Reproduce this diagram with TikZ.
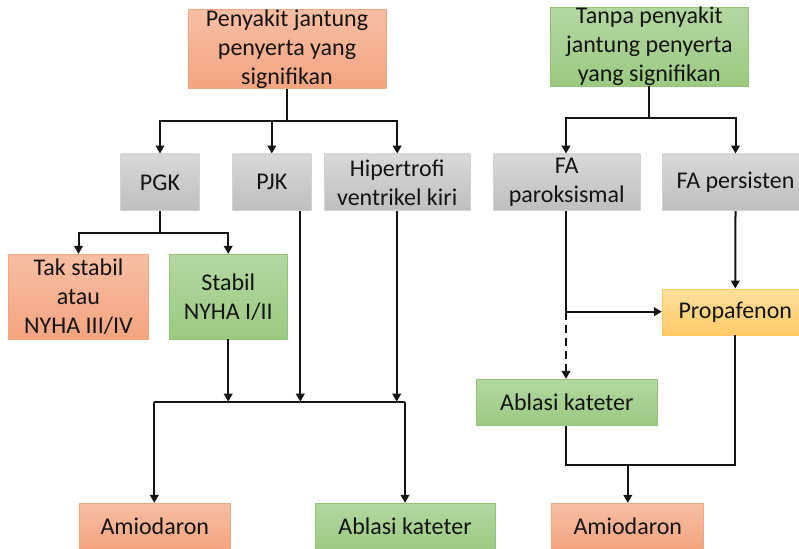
\documentclass[tikz,border=0pt]{standalone}
\usepackage{fontspec}
\setmainfont{Carlito}
\usetikzlibrary{arrows.meta}

\definecolor{orTop}{HTML}{F7BEA3}
\definecolor{orBot}{HTML}{F4A47F}
\definecolor{orLine}{HTML}{F4A57F}
\definecolor{grTop}{HTML}{B3D7A1}
\definecolor{grBot}{HTML}{9CCA81}
\definecolor{grLine}{HTML}{92C476}
\definecolor{gyTop}{HTML}{D9D9D9}
\definecolor{gyBot}{HTML}{BEBEBE}
\definecolor{gyLine}{HTML}{D2D2D2}
\definecolor{yeTop}{HTML}{FFDF9E}
\definecolor{yeBot}{HTML}{FFCB66}
\definecolor{yeLine}{HTML}{FFCA62}
\definecolor{ink}{HTML}{141414}

\tikzset{
  box/.style={draw, line width=0.8pt, inner sep=0pt, align=center,
    font=\fontsize{24}{29}\selectfont, text=ink},
  orbox/.style={box, draw=orLine, top color=orTop, bottom color=orBot},
  grbox/.style={box, draw=grLine, top color=grTop, bottom color=grBot},
  gybox/.style={box, draw=gyLine, top color=gyTop, bottom color=gyBot},
  yebox/.style={box, draw=yeLine, top color=yeTop, bottom color=yeBot},
  link/.style={draw=ink, line width=2pt},
  flow/.style={link, -{Triangle[length=8pt,width=8.5pt]}},
}

\begin{document}
\begin{tikzpicture}[x=1pt, y=-1pt]
\useasboundingbox (0,0) rectangle (799,548);
\clip (0,0) rectangle (799,548);

% top-level groups
\node[orbox, minimum width=198pt, minimum height=78pt] (comorb) at (287,49)
  {Penyakit jantung\\penyerta yang\\signifikan};
\node[grbox, minimum width=198pt, minimum height=78pt] (nocomorb) at (649.3,46.7)
  {Tanpa penyakit\\jantung penyerta\\yang signifikan};

% conditions
\node[gybox, minimum width=79pt, minimum height=56.7pt] (pgk) at (160,182.3) {PGK};
\node[gybox, minimum width=79pt, minimum height=56.7pt] (pjk) at (271.8,182.3) {PJK};
\node[gybox, minimum width=146pt, minimum height=56.7pt] (hvk) at (397.2,182.3)
  {Hipertrofi\\ventrikel kiri};
\node[gybox, minimum width=146.7pt, minimum height=56.7pt] (fap) at (566.7,182.3)
  {FA\\paroksismal};
\node[gybox, minimum width=146pt, minimum height=56.7pt] (fapers) at (735.5,182.3)
  {FA persisten};

% heart failure status
\node[orbox, minimum width=140.4pt, minimum height=84.7pt] (unstable) at (78.5,296.7)
  {Tak stabil\\atau\\NYHA III/IV};
\node[grbox, minimum width=117.7pt, minimum height=84.7pt] (stable) at (228.2,296.7)
  {Stabil\\NYHA I/II};

% therapies
\node[yebox, minimum width=146pt, minimum height=46pt] (propa) at (735.3,312) {Propafenon};
\node[grbox, minimum width=180.3pt, minimum height=46.4pt] (ablR) at (566.8,402.5)
  {Ablasi kateter};
\node[orbox, minimum width=151pt, minimum height=46.4pt] (amioL) at (154.8,526.5) {Amiodaron};
\node[grbox, minimum width=180pt, minimum height=46.4pt] (ablL) at (405,526.5) {Ablasi kateter};
\node[orbox, minimum width=152pt, minimum height=46.4pt] (amioR) at (627.8,526.5) {Amiodaron};

% junction points
\coordinate (jTop) at (287,121);
\coordinate (jTopR) at (649.3,118.3);
\coordinate (jPgk) at (160,232.7);
\coordinate (busL) at (154.3,401.7);
\coordinate (busR) at (405,401.7);
\coordinate (jFap) at (566,311.7);
\coordinate (jLow) at (566,465);

% left branch
\draw[link] (comorb.south) -- (jTop);
\draw[flow] (jTop) -| (pgk.north);
\draw[flow] (jTop) -| (pjk.north);
\draw[flow] (jTop) -| (hvk.north);
\draw[link] (pgk.south) -- (jPgk);
\draw[flow] (jPgk) -| (unstable.north);
\draw[flow] (jPgk) -| (stable.north);
\draw[flow] (stable.south) -- (stable.south |- busL);
\draw[flow] (pjk.south -| 300.3,0) -- (busL -| 300.3,0);
\draw[flow] (hvk.south -| 396.7,0) -- (busL -| 396.7,0);
\draw[link] (busL) -- (busR);
\draw[flow] (busL) -- (busL |- amioL.north);
\draw[flow] (busR) -- (ablL.north);

% right branch
\draw[link] (nocomorb.south) -- (jTopR);
\draw[flow] (jTopR) -| (fap.north -| 566,0);
\draw[flow] (jTopR) -| (fapers.north);
\draw[link] (fap.south -| jFap) -- (jFap);
\draw[flow] (jFap) -- (propa.west |- jFap);
\draw[flow, dash pattern=on 8pt off 5pt] (jFap) -- (ablR.north -| jFap);
\draw[flow] (fapers.south) -- (propa.north);
\draw[link] (ablR.south -| jLow) -- (jLow) -| (propa.south);
\draw[flow] (jLow -| amioR.north) -- (amioR.north);
\end{tikzpicture}
\end{document}
